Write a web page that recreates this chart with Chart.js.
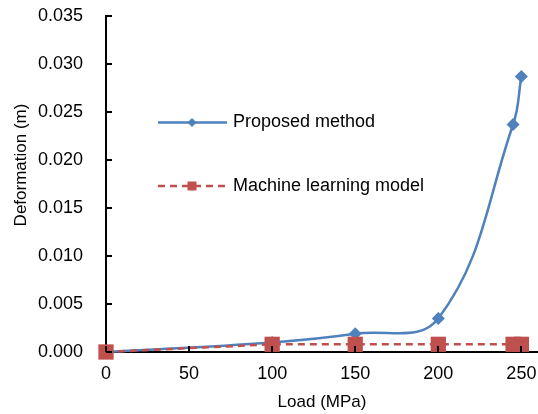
<!DOCTYPE html>
<html lang="en">
<head>
    <meta charset="UTF-8">
    <title>Deformation vs Load</title>
    <script src="https://cdn.jsdelivr.net/npm/chart.js"></script>
    <style>
        body {
            margin: 0;
            background: #fff;
            font-family: "Liberation Sans", Arial, sans-serif;
        }
        .wrap {
            width: 538px;
            height: 414px;
            position: relative;
        }
    </style>
</head>
<body>

<div class="wrap">
    <canvas id="deformChart"></canvas>
</div>

<script>
// values
const loads = [0, 100, 150, 200, 245, 250];
const proposed = [0, 0.001, 0.0019, 0.0035, 0.0237, 0.0287];
const mlModel = [0, 0.0008, 0.0008, 0.0008, 0.0008, 0.0008];
const xTicks = [0, 50, 100, 150, 200, 250];
const yTicks = [0, 0.005, 0.010, 0.015, 0.020, 0.025, 0.030, 0.035];
const seriesNames = ["Proposed method", "Machine learning model"];

const BLUE = "#4F81BD";
const RED = "#C0504D";
const FONT = "'Liberation Sans', Arial, sans-serif";

function toPoints(xs, ys) {
    return xs.map((x, i) => ({ x: x, y: ys[i] }));
}

// inward tick marks + legend inside the plot
const extras = {
    id: "extras",
    afterDraw(chart) {
        const ctx = chart.ctx;
        const xs = chart.scales.x, ys = chart.scales.y;
        const area = chart.chartArea;
        ctx.save();
        ctx.strokeStyle = "#000";
        ctx.lineWidth = 2;
        ctx.beginPath();
        yTicks.forEach(v => {
            const py = Math.round(ys.getPixelForValue(v));
            ctx.moveTo(area.left, py);
            ctx.lineTo(area.left + 6, py);
        });
        xTicks.forEach(v => {
            const px = Math.round(xs.getPixelForValue(v));
            ctx.moveTo(px, area.bottom);
            ctx.lineTo(px, area.bottom - 6);
        });
        ctx.stroke();

        // legend
        const rows = [
            { y: 122.5, color: BLUE, dash: [], marker: "diamond", name: seriesNames[0] },
            { y: 186, color: RED, dash: [7, 5], marker: "square", name: seriesNames[1] }
        ];
        rows.forEach(r => {
            ctx.strokeStyle = r.color;
            ctx.lineWidth = 2.5;
            ctx.setLineDash(r.dash);
            ctx.beginPath();
            ctx.moveTo(158, r.y);
            ctx.lineTo(227, r.y);
            ctx.stroke();
            ctx.setLineDash([]);
            ctx.fillStyle = r.color;
            ctx.beginPath();
            if (r.marker === "diamond") {
                ctx.moveTo(192, r.y - 4.5);
                ctx.lineTo(196.5, r.y);
                ctx.lineTo(192, r.y + 4.5);
                ctx.lineTo(187.5, r.y);
            } else {
                ctx.rect(187.5, r.y - 4.5, 9, 9);
            }
            ctx.closePath();
            ctx.fill();
            ctx.fillStyle = "#000";
            ctx.font = "18px " + FONT;
            ctx.textBaseline = "middle";
            ctx.textAlign = "left";
            ctx.fillText(r.name, 233, r.y);
        });

        // axis titles
        ctx.font = "17px " + FONT;
        ctx.textAlign = "center";
        ctx.textBaseline = "middle";
        ctx.fillText("Load (MPa)", 322, 402);
        ctx.translate(21, 165);
        ctx.rotate(-Math.PI / 2);
        ctx.fillText("Deformation (m)", 0, 0);
        ctx.restore();
    }
};

new Chart(document.getElementById("deformChart"), {
    type: "scatter",
    data: {
        datasets: [
            {
                label: seriesNames[0],
                data: toPoints(loads, proposed),
                showLine: true,
                clip: false,
                borderColor: BLUE,
                backgroundColor: BLUE,
                borderWidth: 2.5,
                tension: 0.4,
                pointStyle: "rectRot",
                pointRadius: 6.5,
                pointHoverRadius: 6.5,
                pointBorderWidth: 0,
                order: 1
            },
            {
                label: seriesNames[1],
                data: toPoints(loads, mlModel),
                showLine: true,
                clip: false,
                borderColor: RED,
                backgroundColor: RED,
                borderWidth: 2.5,
                borderDash: [7, 5],
                tension: 0,
                pointStyle: "rect",
                pointRadius: 10.8,
                pointHoverRadius: 10.8,
                pointBorderWidth: 0,
                order: 0
            }
        ]
    },
    options: {
        responsive: true,
        maintainAspectRatio: false,
        animation: false,
        layout: { autoPadding: false, padding: { top: 16, right: 0, bottom: 0, left: 0 } },
        plugins: {
            legend: { display: false },
            tooltip: { enabled: false }
        },
        scales: {
            x: {
                type: "linear",
                min: 0,
                max: 260,
                afterBuildTicks: axis => { axis.ticks = xTicks.map(v => ({ value: v })); },
                afterFit: axis => {
                    axis.height = 62;
                    axis.paddingLeft = 0;
                    axis.paddingRight = 0;
                },
                grid: { display: false },
                border: { display: true, color: "#000", width: 2 },
                ticks: {
                    color: "#000",
                    padding: 3,
                    maxRotation: 0,
                    font: { family: FONT, size: 18 }
                }
            },
            y: {
                type: "linear",
                min: 0,
                max: 0.035,
                afterBuildTicks: axis => { axis.ticks = yTicks.map(v => ({ value: v })); },
                afterFit: axis => {
                    axis.width = 106;
                    axis.paddingTop = 0;
                    axis.paddingBottom = 0;
                },
                grid: { display: false },
                border: { display: true, color: "#000", width: 2 },
                ticks: {
                    color: "#000",
                    padding: 15,
                    font: { family: FONT, size: 18 },
                    callback: v => v.toFixed(3)
                }
            }
        }
    },
    plugins: [extras]
});
</script>
</body>
</html>
